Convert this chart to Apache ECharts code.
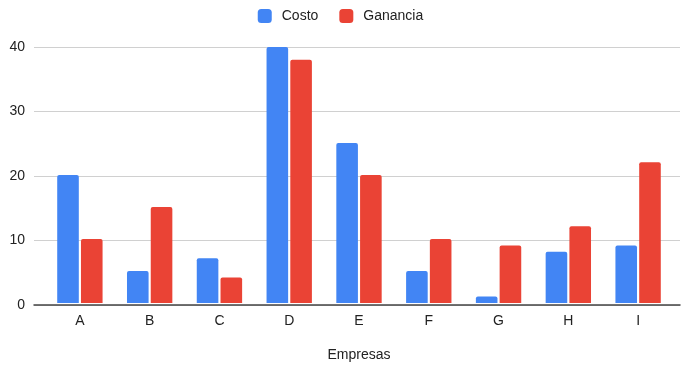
<!DOCTYPE html>
<html>
<head>
<meta charset="utf-8">
<script src="https://cdn.jsdelivr.net/npm/echarts@6/dist/echarts.min.js"></script>
<style>
  html, body { margin: 0; padding: 0; background: #fff; }
  #chart { width: 681px; height: 367px; }
</style>
</head>
<body>
<div id="chart"></div>
<script>
// Companies and their cost / profit figures
const empresas = ['A', 'B', 'C', 'D', 'E', 'F', 'G', 'H', 'I'];
const costo = [20, 5, 7, 40, 25, 5, 1, 8, 9];
const ganancia = [10, 15, 4, 38, 20, 10, 9, 12, 22];
const yTicks = [0, 10, 20, 30, 40];

const FONT = 'Arial, "Liberation Sans", sans-serif';
const chart = echarts.init(document.getElementById('chart'), null, { renderer: 'canvas' });

chart.setOption({
  backgroundColor: '#ffffff',
  textStyle: { fontFamily: FONT },
  legend: {
    top: 4,
    left: 'center',
    itemWidth: 14,
    itemHeight: 14,
    itemGap: 21,
    icon: 'roundRect',
    textStyle: { fontSize: 14, color: '#222', fontFamily: FONT, padding: [0, 0, 0, 5] },
    data: ['Costo', 'Ganancia']
  },
  grid: [
    // wide grid: horizontal gridlines and baseline
    { left: 34, right: 1, top: 47, bottom: 62, containLabel: false },
    // inner grid: the bars
    { left: 45, right: 8, top: 47, bottom: 62, containLabel: false }
  ],
  xAxis: [
    {
      gridIndex: 0,
      type: 'value',
      min: 0, max: 1,
      axisLabel: { show: false },
      axisTick: { show: false },
      splitLine: { show: false },
      axisLine: { show: true, onZero: false, lineStyle: { color: '#444', width: 1.5 } }
    },
    {
      gridIndex: 1,
      type: 'category',
      data: empresas,
      axisLine: { show: false },
      axisTick: { show: false },
      axisLabel: { margin: 11, fontSize: 14, color: '#222', fontFamily: FONT },
      name: 'Empresas',
      nameLocation: 'middle',
      nameGap: 45,
      nameTextStyle: { fontSize: 14, color: '#222', fontFamily: FONT }
    }
  ],
  yAxis: [
    {
      gridIndex: 0,
      type: 'value',
      min: yTicks[0],
      max: yTicks[yTicks.length - 1],
      interval: 10,
      axisLine: { show: false },
      axisTick: { show: false },
      axisLabel: { margin: 9, fontSize: 14, color: '#222', fontFamily: FONT },
      splitLine: { show: true, lineStyle: { color: '#d0d0d0', width: 1 } }
    },
    {
      gridIndex: 1,
      type: 'value',
      min: yTicks[0],
      max: yTicks[yTicks.length - 1],
      interval: 10,
      show: false,
      splitLine: { show: false }
    }
  ],
  series: [
    {
      name: 'Costo',
      type: 'bar',
      xAxisIndex: 1,
      yAxisIndex: 1,
      data: costo,
      barGap: '10%',
      barCategoryGap: '35%',
      itemStyle: { color: '#4285F4', borderRadius: [2, 2, 0, 0] }
    },
    {
      name: 'Ganancia',
      type: 'bar',
      xAxisIndex: 1,
      yAxisIndex: 1,
      data: ganancia,
      barGap: '10%',
      barCategoryGap: '35%',
      itemStyle: { color: '#EA4335', borderRadius: [2, 2, 0, 0] }
    }
  ]
});
</script>
</body>
</html>
